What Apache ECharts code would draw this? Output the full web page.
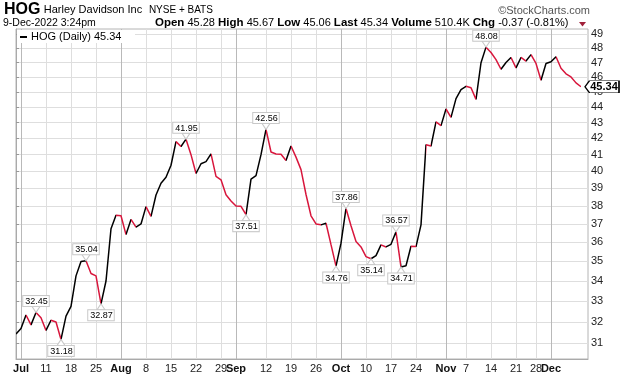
<!DOCTYPE html>
<html>
<head>
<meta charset="utf-8">
<script src="https://cdn.jsdelivr.net/npm/echarts@6/dist/echarts.min.js"></script>
<style>
  html, body { margin: 0; padding: 0; background: #fff; }
  #chart { width: 620px; height: 376px; }
</style>
</head>
<body>
<div id="chart"></div>
<script>
// HOG daily closes, 30-Jun-2022 .. 9-Dec-2022 (one per trading day)
const firstDay = '2022-06-30';
const lastDay = '2022-12-09';
const holidays = ['2022-07-04', '2022-09-05', '2022-11-24'];
const closes = [
  31.43, 31.69, 32.33, 31.86, 32.45, 32.20, 31.60, 32.08, 32.00, 31.18,
  32.28, 32.75, 34.26, 35.00, 35.04, 34.38, 34.26, 32.87, 34.00, 36.74,
  37.48, 37.45, 36.42, 37.25, 36.83, 37.00, 37.96, 37.42, 38.62, 39.30,
  39.65, 40.36, 41.80, 41.50, 41.95, 41.00, 39.87, 40.45, 40.58, 41.05,
  39.70, 39.50, 38.64, 38.28, 38.00, 37.98, 37.51, 39.54, 39.75, 41.00,
  42.56, 41.16, 41.04, 41.02, 40.65, 41.53, 40.85, 40.10, 38.65, 37.45,
  37.00, 36.95, 37.04, 35.88, 34.76, 35.96, 37.86, 36.90, 36.05, 35.76,
  35.25, 35.14, 35.30, 35.87, 35.76, 35.90, 36.57, 34.71, 34.78, 35.80,
  35.78, 36.95, 41.60, 41.53, 43.04, 42.80, 43.87, 43.33, 44.55, 45.15,
  45.37, 45.27, 44.50, 46.98, 48.08, 47.70, 47.20, 46.53, 47.00, 47.35,
  46.63, 47.35, 47.10, 47.55, 46.93, 45.78, 46.93, 47.05, 47.40, 46.60,
  46.22, 46.00, 45.60, 45.34
];
// annotated swing highs / lows (indices into closes)
const peakIdx = [4, 14, 34, 50, 66, 76, 94];
const troughIdx = [9, 17, 46, 64, 71, 77];

const weekTicks = ['2022-07-11', '2022-07-18', '2022-07-25', '2022-08-08', '2022-08-15',
  '2022-08-22', '2022-08-29', '2022-09-12', '2022-09-19', '2022-09-26', '2022-10-10',
  '2022-10-17', '2022-10-24', '2022-11-07', '2022-11-14', '2022-11-21', '2022-11-28'];
const monthTicks = ['2022-07-01', '2022-08-01', '2022-09-01', '2022-10-03', '2022-11-01', '2022-12-01'];
const monthLabels = ['Jul', 'Aug', 'Sep', 'Oct', 'Nov', 'Dec'];
const priceTicks = [31, 32, 33, 34, 35, 36, 37, 38, 39, 40, 41, 42, 43, 44, 45, 46, 47, 48, 49];

const UP = '#000000';
const DOWN = '#d8163c';

function tradingDays(start, end) {
  const out = [];
  const d = new Date(start + 'T00:00:00Z');
  const stop = new Date(end + 'T00:00:00Z');
  while (d <= stop) {
    const iso = d.toISOString().slice(0, 10);
    const wd = d.getUTCDay();
    if (wd !== 0 && wd !== 6 && !holidays.includes(iso)) out.push(iso);
    d.setUTCDate(d.getUTCDate() + 1);
  }
  return out;
}

const days = tradingDays(firstDay, lastDay);
const dayIndex = (iso) => days.indexOf(iso);

const weekIdx = weekTicks.map(dayIndex);
const weekText = {};
weekTicks.forEach((t, k) => { weekText[weekIdx[k]] = String(+t.slice(8)); });
const monthIdx = monthTicks.map(dayIndex);
const monthText = {};
monthTicks.forEach((t, k) => { monthText[monthIdx[k]] = monthLabels[k]; });

const points = closes.map((v, i) => [i, v]);

// red where the close fell from the day before, black otherwise
const pieces = [];
for (let i = 0; i < closes.length - 1; i++) {
  const p = { gte: i, color: closes[i + 1] < closes[i] ? DOWN : UP };
  if (i < closes.length - 2) p.lt = i + 1; else p.lte = i + 1;
  pieces.push(p);
}

const font = 'Arial, "Liberation Sans", sans-serif';

const boxLabel = {
  show: true,
  formatter: (p) => Number(p.value).toFixed(2),
  color: '#000',
  fontFamily: font,
  fontSize: 9,
  lineHeight: 9,
  backgroundColor: '#fff',
  borderColor: '#c8c8c8',
  borderWidth: 1,
  padding: [1, 1, 0, 2],
  distance: 0
};

const swingMarks = [
  ...peakIdx.map((i) => ({
    coord: [i, closes[i]], value: closes[i],
    symbol: 'path://M0,0L10,0L5,7Z', symbolSize: [8, 6], symbolOffset: [0, -3],
    label: { ...boxLabel, position: 'top' }
  })),
  ...troughIdx.map((i) => ({
    coord: [i, closes[i]], value: closes[i],
    symbol: 'path://M5,0L10,7L0,7Z', symbolSize: [8, 6], symbolOffset: [0, 3],
    label: { ...boxLabel, position: 'bottom' }
  }))
];

const last = closes.length - 1;
const lastMark = {
  coord: [last, closes[last]], value: closes[last],
  symbol: 'path://M0,6L5,0L38,0L38,12L5,12Z', symbolSize: [34, 12], symbolOffset: [21, 0],
  symbolKeepAspect: false,
  itemStyle: { color: '#fff', borderColor: '#000', borderWidth: 1 },
  label: {
    show: true, position: 'inside', offset: [2, 0],
    formatter: (p) => Number(p.value).toFixed(2),
    color: '#000', fontWeight: 'bold', fontSize: 11, fontFamily: font
  }
};

const chart = echarts.init(document.getElementById('chart'), null, { renderer: 'canvas' });
const xMax = 114.4;

chart.setOption({
  animation: false,
  backgroundColor: '#fff',
  textStyle: { fontFamily: font },
  grid: { left: 16, right: 32, top: 29, bottom: 17, show: true, borderColor: '#b4b4b4', borderWidth: 1 },
  xAxis: [
    {
      type: 'value', min: 0, max: xMax, position: 'bottom',
      axisLine: { show: true, lineStyle: { color: '#aaa' } },
      axisTick: { show: false, customValues: weekIdx },
      splitLine: { show: true, lineStyle: { color: '#dedede', width: 1 } },
      axisLabel: {
        customValues: weekIdx, margin: 4, fontSize: 11, color: '#222', fontFamily: font,
        formatter: (v) => weekText[Math.round(v)] || ''
      }
    },
    {
      type: 'value', min: 0, max: xMax, position: 'bottom', gridIndex: 0,
      axisLine: { show: false },
      axisTick: { show: false, customValues: monthIdx },
      splitLine: { show: true, lineStyle: { color: '#b9b9b9', width: 1 } },
      axisLabel: {
        customValues: monthIdx, margin: 4, fontSize: 11, fontWeight: 'bold', color: '#111', fontFamily: font,
        formatter: (v) => monthText[Math.round(v)] || ''
      }
    }
  ],
  yAxis: {
    type: 'log', logBase: 10, min: 30.29, max: 49.39, position: 'right',
    axisLine: { show: true, lineStyle: { color: '#aaa' } },
    axisTick: { show: true, length: 3, customValues: priceTicks, lineStyle: { color: '#999' } },
    splitLine: { show: true, lineStyle: { color: '#dedede', width: 1 } },
    axisLabel: {
      customValues: priceTicks, margin: 3, fontSize: 11, color: '#222', fontFamily: font,
      formatter: (v) => String(Math.round(v))
    }
  },
  visualMap: {
    type: 'piecewise', show: false, dimension: 0, seriesIndex: 0, pieces: pieces
  },
  series: [{
    name: 'HOG (Daily)',
    type: 'line',
    xAxisIndex: 0,
    data: points,
    showSymbol: false,
    lineStyle: { width: 1.5 },
    markPoint: {
      silent: true,
      itemStyle: { color: '#fff', borderColor: '#c8c8c8', borderWidth: 1 },
      data: [...swingMarks, lastMark]
    }
  }],
  graphic: [
    {
      type: 'text', left: 4, top: 2, z: 100,
      style: {
        text: '{t|HOG} {n|Harley Davidson Inc}  {x|NYSE + BATS}',
        rich: {
          t: { fontSize: 16, fontWeight: 'bold', fontFamily: font, fill: '#000' },
          n: { fontSize: 11, fontFamily: font, fill: '#000' },
          x: { fontSize: 10, fontFamily: font, fill: '#000' }
        }
      }
    },
    {
      type: 'text', right: 30, top: 5, z: 100,
      style: { text: '\u00a9StockCharts.com', fontSize: 11, fontFamily: font, fill: '#555' }
    },
    {
      type: 'text', left: 3, top: 18, z: 100,
      style: { text: '9-Dec-2022 3:24pm', fontSize: 10.5, fontFamily: font, fill: '#000' }
    },
    {
      type: 'text', left: 155, top: 17, z: 100,
      style: {
        text: '{b|Open} 45.28 {b|High} 45.67 {b|Low} 45.06 {b|Last} 45.34 {b|Volume} 510.4K {b|Chg} -0.37 (-0.81%)',
        fontSize: 11, fontFamily: font, fill: '#000',
        rich: { b: { fontSize: 11.5, fontWeight: 'bold', fontFamily: font, fill: '#000' } }
      }
    },
    {
      type: 'polygon', z: 100, shape: { points: [[579, 22], [586, 22], [582.5, 26.5]] },
      style: { fill: '#a0203a' }
    },
    {
      type: 'group', left: 17, top: 30, z: 100,
      children: [
        { type: 'rect', z: 100, shape: { x: 0, y: 0, width: 118, height: 13 }, style: { fill: '#fff' } },
        { type: 'line', z: 101, shape: { x1: 3, y1: 7, x2: 10, y2: 7 }, style: { stroke: '#000', lineWidth: 2 } },
        { type: 'text', z: 101, x: 14, y: 1, style: { text: 'HOG (Daily) 45.34', fontSize: 11, fontFamily: font, fill: '#000' } }
      ]
    }
  ]
});
</script>
</body>
</html>
